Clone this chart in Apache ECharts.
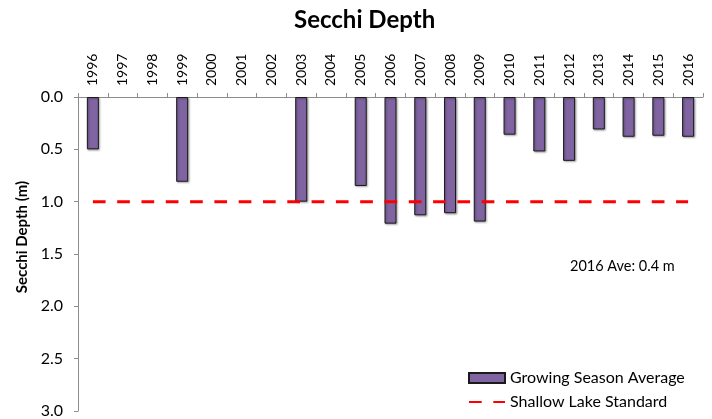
<!DOCTYPE html>
<html>
<head>
<meta charset="utf-8">
<script src="https://cdn.jsdelivr.net/npm/echarts@6/dist/echarts.min.js"></script>
<style>
html, body { margin: 0; padding: 0; background: #fff; }
#chart { width: 712px; height: 419px; }
</style>
</head>
<body>
<div id="chart"></div>
<script>
var years = ['1996','1997','1998','1999','2000','2001','2002','2003','2004','2005','2006',
    '2007','2008','2009','2010','2011','2012','2013','2014','2015','2016'];
// growing season average secchi depth (m), null = no data
var secchi = [0.5, null, null, 0.81, null, null, null, 1.0, null, 0.85, 1.21,
    1.13, 1.11, 1.19, 0.36, 0.52, 0.61, 0.31, 0.38, 0.37, 0.38];
var standard = 1.0;
var yTicks = [0, 0.5, 1.0, 1.5, 2.0, 2.5, 3.0];

var font = 'Lato, "Open Sans", sans-serif';
var myChart = echarts.init(document.getElementById('chart'));

var option = {
    backgroundColor: '#fff',
    animation: false,
    textStyle: { fontFamily: font },
    title: {
        text: 'Secchi Depth',
        left: 289,
        top: 3,
        textStyle: { fontSize: 24, fontWeight: 'bold', color: '#000', fontFamily: font }
    },
    grid: { left: 78, right: 9, top: 97, bottom: 8 },
    legend: {
        orient: 'vertical',
        left: 463,
        top: 365,
        itemWidth: 36,
        itemHeight: 10,
        itemGap: 8,
        textStyle: { fontSize: 16, color: '#000', fontFamily: font },
        data: [
            { name: 'Growing Season Average', icon: 'rect' },
            { name: 'Shallow Lake Standard', itemStyle: { opacity: 0 } }
        ]
    },
    xAxis: {
        type: 'category',
        position: 'top',
        data: years,
        axisLine: { lineStyle: { color: '#8c8c8c' } },
        axisTick: { show: true, length: 4, lineStyle: { color: '#8c8c8c' } },
        axisLabel: { rotate: 90, interval: 0, margin: 11, fontSize: 14, color: '#000' }
    },
    yAxis: {
        type: 'value',
        inverse: true,
        min: yTicks[0],
        max: yTicks[yTicks.length - 1],
        interval: 0.5,
        name: 'Secchi Depth (m)',
        nameLocation: 'middle',
        nameGap: 48,
        nameTextStyle: { fontSize: 15, fontWeight: 'bold', color: '#000', padding: [0, 0, 0, 34] },
        axisLine: { show: true, lineStyle: { color: '#8c8c8c' } },
        axisTick: { show: true, length: 4, lineStyle: { color: '#8c8c8c' } },
        splitLine: { show: false },
        axisLabel: {
            margin: 15, fontSize: 16, color: '#000',
            formatter: function(v) { return v.toFixed(1); }
        }
    },
    graphic: [{
        type: 'text',
        left: 570,
        top: 259,
        style: { text: '2016 Ave: 0.4 m', fontSize: 14.5, fill: '#000', fontFamily: font }
    }],
    series: [{
        name: 'Growing Season Average',
        type: 'bar',
        data: secchi,
        barWidth: 12,
        itemStyle: {
            color: '#8064A2',
            borderColor: '#1a1a1a',
            borderWidth: 1,
            shadowColor: 'rgba(0,0,0,0.35)',
            shadowBlur: 2,
            shadowOffsetX: 1,
            shadowOffsetY: 1
        }
    }, {
        name: 'Shallow Lake Standard',
        type: 'line',
        data: years.map(function() { return standard; }),
        symbol: 'none',
        z: 5,
        lineStyle: { color: '#ff0000', width: 3, type: [12.7, 11.6] },
        itemStyle: { color: '#ff0000' }
    }]
};

myChart.setOption(option);
</script>
</body>
</html>
